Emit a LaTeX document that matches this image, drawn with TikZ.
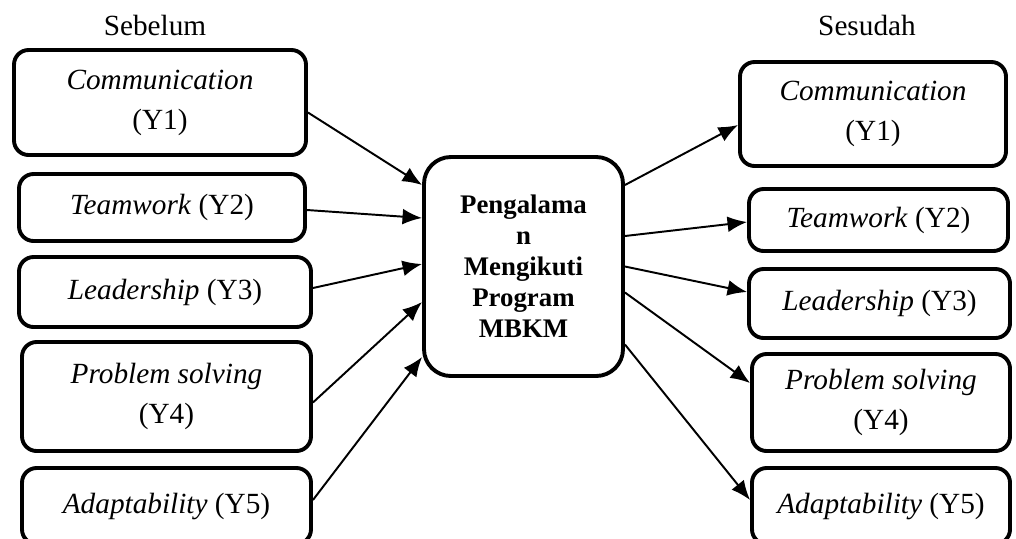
\documentclass[tikz,border=0pt]{standalone}
\usepackage{fontspec}
\setmainfont{Liberation Serif}
\usetikzlibrary{arrows.meta,calc}
\def\px{0.41pt}
\tikzset{
  var/.style={draw,line width=1.6pt,rounded corners=6pt,align=center,inner sep=0pt,font=\fontsize{12}{16.4}\selectfont},
  mbkm/.style={draw,line width=1.6pt,rounded corners=11pt,align=center,inner sep=0pt,font=\fontsize{11}{12.7}\selectfont\bfseries},
  link/.style={line width=0.8pt,-{Latex[length=8pt,width=6.5pt]}}
}
\begin{document}
\begin{tikzpicture}[x=\px,y=-\px]
\useasboundingbox(0,0) rectangle (1016,538);
%headings
\node[anchor=base,font=\fontsize{12}{14}\selectfont] (sebelum) at (155,35) {Sebelum};
\node[anchor=base,font=\fontsize{12}{14}\selectfont] (sesudah) at (867,35) {Sesudah};
%before
\node[var,minimum width=292*\px,minimum height=105*\px] (L1) at (160,102.5) {\textit{Communication}\\(Y1)};
\node[var,minimum width=286*\px,minimum height=67*\px] (L2) at (162,207.5) {\textit{Teamwork} (Y2)};
\node[var,minimum width=292*\px,minimum height=70*\px] (L3) at (165,292) {\textit{Leadership} (Y3)};
\node[var,minimum width=289*\px,minimum height=109*\px] (L4) at (166.5,396.5) {\textit{Problem solving}\\(Y4)};
\node[var,minimum width=289*\px,minimum height=76*\px] (L5) at (166.5,506) {\textit{Adaptability} (Y5)};
%centre
\node[mbkm,minimum width=199*\px,minimum height=219*\px] (C) at (523.5,266.5) {Pengalama\\n\\Mengikuti\\Program\\MBKM};
%after
\node[var,minimum width=266*\px,minimum height=104*\px] (R1) at (873,114) {\textit{Communication}\\(Y1)};
\node[var,minimum width=259*\px,minimum height=62*\px] (R2) at (878.5,220) {\textit{Teamwork} (Y2)};
\node[var,minimum width=261*\px,minimum height=69*\px] (R3) at (879.5,303.5) {\textit{Leadership} (Y3)};
\node[var,minimum width=258*\px,minimum height=97*\px] (R4) at (881,402.5) {\textit{Problem solving}\\(Y4)};
\node[var,minimum width=258*\px,minimum height=76*\px] (R5) at (881,506) {\textit{Adaptability} (Y5)};
%arrows in
\foreach \s/\a/\b in {L1/10/-81.5,L2/2.5/-48.5,L3/-4/-2.5,L4/6/35.5,L5/-6/90.5}
  \draw[link]($(\s.east)+(0,\a)$)--($(C.west)+(0,\b)$);
%arrows out
\foreach \t/\a/\b in {R1/-81.5/11,R2/-30.5/2,R3/0/-11.5,R4/26/-19.5,R5/78/-6}
  \draw[link]($(C.east)+(0,\a)$)--($(\t.west)+(0,\b)$);
\end{tikzpicture}
\end{document}
